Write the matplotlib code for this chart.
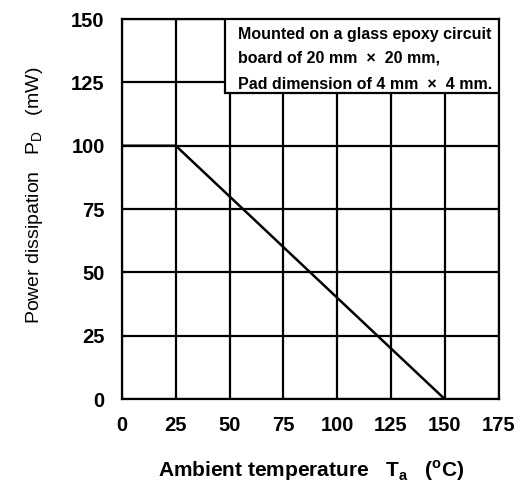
import matplotlib
matplotlib.use("Agg")
import matplotlib.pyplot as plt

# derating curve
temp_c = [0, 25, 150]
power_mw = [100, 100, 0]

x_ticks = [0, 25, 50, 75, 100, 125, 150, 175]
y_ticks = [0, 25, 50, 75, 100, 125, 150]

note_lines = ["Mounted on a glass epoxy circuit",
              "board of 20 mm  \u00d7  20 mm,",
              "Pad dimension of 4 mm  \u00d7  4 mm."]

plt.rcParams['font.family'] = ['Liberation Sans', 'DejaVu Sans']
plt.rcParams['mathtext.fontset'] = 'custom'
plt.rcParams['mathtext.rm'] = 'Liberation Sans'
plt.rcParams['mathtext.bf'] = 'Liberation Sans:bold'

fig = plt.figure(figsize=(5.29, 4.88), dpi=100)
ax = fig.add_axes([0.2306, 0.182, 0.712, 0.779])

ax.plot(temp_c, power_mw, color='black', lw=1.8, solid_capstyle='butt', zorder=3)

ax.set_xlim(0, 175)
ax.set_ylim(0, 150)
ax.set_xticks(x_ticks)
ax.set_yticks(y_ticks)
ax.tick_params(length=0, labelsize=14.5)
ax.tick_params(axis='x', pad=12)
ax.tick_params(axis='y', pad=12.5)
for lab in ax.get_xticklabels() + ax.get_yticklabels():
    lab.set_fontweight('bold')
ax.grid(True, color='black', lw=1.6)
for s in ax.spines.values():
    s.set_linewidth(1.6)

ax.set_xlabel("Ambient temperature   T$_\\mathbf{a}$   ($^\\mathbf{o}$C)",
              fontsize=15, fontweight='bold', va='center')
ax.xaxis.set_label_coords(0.503, -0.187)
ax.set_ylabel("Power dissipation   P$_\\mathrm{D}$   (mW)",
              fontsize=14, va='center')
ax.yaxis.set_label_coords(-0.231, 0.537)

# note box in the upper right corner
box = plt.Rectangle((0.273, 0.805), 0.727, 0.195, transform=ax.transAxes,
                    facecolor='white', edgecolor='black', lw=1.6, zorder=4)
ax.add_patch(box)
for line, yy in zip(note_lines, [0.958, 0.898, 0.828]):
    ax.text(0.308, yy, line, transform=ax.transAxes, fontsize=11.5,
            fontweight='bold', va='center', zorder=5)

fig.savefig("out.png", dpi=100)
